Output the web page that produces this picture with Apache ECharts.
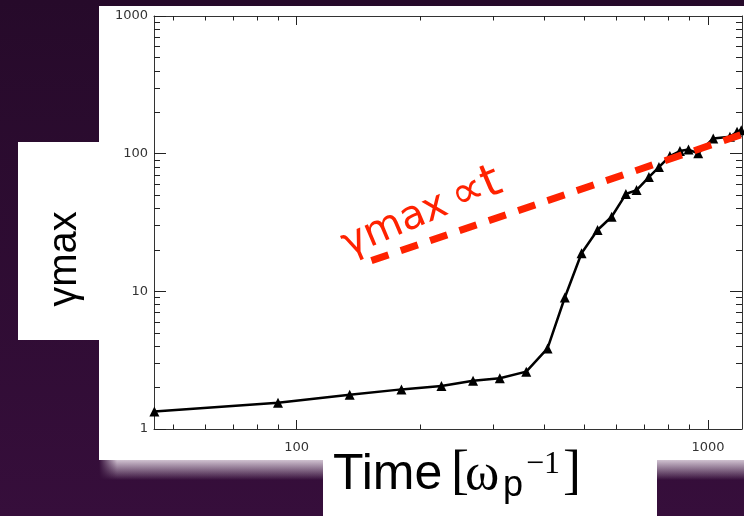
<!DOCTYPE html>
<html><head><meta charset="utf-8">
<script src="https://cdn.jsdelivr.net/npm/echarts@6/dist/echarts.min.js"></script>
<style>html,body{margin:0;padding:0;background:#2c0b30}#c{width:744px;height:516px}</style>
</head><body><div id="c"></div>
<script>
const time = [45.1, 90.1, 134.6, 179.8, 224.9, 268.5, 311.9, 361.6, 407.4, 448.8, 492.8, 539, 583.3, 631.7, 670.6, 718.5, 760, 808, 855, 896.8, 947, 1030, 1131, 1177, 1205];
const gammaMax = [1.34, 1.55, 1.77, 1.94, 2.05, 2.24, 2.34, 2.61, 3.85, 9.02, 18.9, 27.9, 34.8, 50.9, 54.4, 67.6, 79.9, 96.1, 104.4, 107.1, 100.5, 129.1, 132.7, 144.3, 148];
const fitTime = [152, 1210];
const fitGamma = [16.7, 138];
const xMajorTicks = [100, 1000];
const xMinorTicks = [50, 60, 70, 80, 90, 200, 300, 400, 500, 600, 700, 800, 900];
const yMajorTicks = [1, 10, 100, 1000];
const yMinorTicks = [2, 3, 4, 5, 6, 7, 8, 9, 20, 30, 40, 50, 60, 70, 80, 90, 200, 300, 400, 500, 600, 700, 800, 900];
const xRange = [45, 1210];
const yRange = [1, 1000];

const chart = echarts.init(document.getElementById('c'), null, {renderer: 'canvas'});
const axisColor = '#333';
const labelStyle = {color: '#333', fontFamily: 'DejaVu Sans', fontSize: 13};
function fmt(v) { return String(Math.round(v)); }

function mkAxis(range, position, ticks, len, showLine, labels, margin) {
  return {
    type: 'log', logBase: 10, min: range[0], max: range[1], position: position,
    gridIndex: 0,
    axisLine: {show: showLine, onZero: false, lineStyle: {color: axisColor, width: 1}},
    axisTick: {show: true, inside: true, length: len, customValues: ticks, lineStyle: {color: '#222', width: 1}},
    minorTick: {show: false},
    splitLine: {show: false},
    axisLabel: labels ? Object.assign({show: true, customValues: labels, margin: margin, formatter: fmt, showMinLabel: true, showMaxLabel: true}, labelStyle) : {show: false}
  };
}

const rot = 23 * Math.PI / 180;
const bg0 = '#260a2a', bg1 = '#360e3b';

const option = {
  animation: false,
  backgroundColor: 'transparent',
  grid: {left: 154, top: 16, width: 588, height: 413, containLabel: false},
  xAxis: [
    mkAxis(xRange, 'bottom', xMajorTicks, 9, true, xMajorTicks, 12),
    mkAxis(xRange, 'bottom', xMinorTicks, 4.5, false, null),
    mkAxis(xRange, 'top', xMajorTicks, 9, true, null),
    mkAxis(xRange, 'top', xMinorTicks, 4.5, false, null)
  ],
  yAxis: [
    mkAxis(yRange, 'left', yMajorTicks, 12, true, yMajorTicks, 6),
    mkAxis(yRange, 'left', yMinorTicks, 6, false, null),
    mkAxis(yRange, 'right', yMajorTicks, 12, true, null),
    mkAxis(yRange, 'right', yMinorTicks, 6, false, null)
  ],
  series: [
    {
      type: 'line', xAxisIndex: 0, yAxisIndex: 0,
      data: time.map((t, i) => [t, gammaMax[i]]),
      symbol: 'triangle', symbolSize: 10, showAllSymbol: true,
      lineStyle: {color: '#000', width: 2.5},
      itemStyle: {color: '#000'},
      z: 3
    },
    {
      type: 'line', xAxisIndex: 0, yAxisIndex: 0,
      data: fitTime.map((t, i) => [t, fitGamma[i]]),
      symbol: 'none',
      lineStyle: {color: '#ff2200', width: 7, type: [18, 13], cap: 'butt'},
      z: 4
    }
  ],
  graphic: [
    {type: 'rect', z: -100, silent: true, shape: {x: 0, y: 0, width: 744, height: 516},
      style: {fill: new echarts.graphic.LinearGradient(0, 0, 0, 1, [{offset: 0, color: bg0}, {offset: 1, color: bg1}])}},
    {type: 'rect', z: -90, silent: true, shape: {x: 99, y: 6, width: 645, height: 454}, style: {fill: '#fff'}},
    {type: 'rect', z: -89, silent: true, shape: {x: 99, y: 460, width: 645, height: 20},
      style: {fill: new echarts.graphic.LinearGradient(0, 0, 0, 1, [{offset: 0, color: 'rgba(235,225,235,0.85)'}, {offset: 1, color: 'rgba(235,225,235,0)'}])}},
    {type: 'rect', z: -88, silent: true, shape: {x: 99, y: 460, width: 18, height: 20},
      style: {fill: new echarts.graphic.LinearGradient(0, 0, 1, 0, [{offset: 0, color: '#340d39'}, {offset: 1, color: 'rgba(52,13,57,0)'}])}},
    {type: 'rect', z: -87, silent: true, shape: {x: 18, y: 142, width: 81, height: 198}, style: {fill: '#fff'}},
    {type: 'rect', z: -87, silent: true, shape: {x: 323, y: 460, width: 334, height: 56}, style: {fill: '#fff'}},
    {type: 'text', z: 100, x: 65, y: 259, rotation: Math.PI / 2,
      style: {text: 'γmax', x: 0, y: 0, align: 'center', verticalAlign: 'middle', fill: '#000', font: '40px "Liberation Sans"'}},
    {type: 'text', z: 100, x: 344, y: 247, rotation: rot,
      style: {text: 'γmax', x: 0, y: 0, align: 'left', verticalAlign: 'middle', fill: '#ff2200', font: '40px "DejaVu Sans"'}},
    {type: 'text', z: 100, x: 453, y: 200, rotation: rot,
      style: {text: '∝t', x: 0, y: 0, align: 'left', verticalAlign: 'middle', fill: '#ff2200', font: '46px "DejaVu Sans"'}},
    {type: 'text', z: 100, x: 333, y: 475,
      style: {text: 'Time', x: 0, y: 0, align: 'left', verticalAlign: 'middle', fill: '#000', font: '50px "Liberation Sans"'}},
    {type: 'text', z: 100, x: 451, y: 474,
      style: {text: '[', x: 0, y: 0, align: 'left', verticalAlign: 'middle', fill: '#000', font: '54px "Liberation Serif"'}},
    {type: 'text', z: 100, x: 465, y: 475,
      style: {text: 'ω', x: 0, y: 0, align: 'left', verticalAlign: 'middle', fill: '#000', font: '52px "Liberation Serif"'}},
    {type: 'text', z: 100, x: 503, y: 486,
      style: {text: 'p', x: 0, y: 0, align: 'left', verticalAlign: 'middle', fill: '#000', font: '36px "Liberation Sans"'}},
    {type: 'text', z: 100, x: 526, y: 465,
      style: {text: '−1', x: 0, y: 0, align: 'left', verticalAlign: 'middle', fill: '#000', font: '32px "Liberation Serif"'}},
    {type: 'text', z: 100, x: 563, y: 474,
      style: {text: ']', x: 0, y: 0, align: 'left', verticalAlign: 'middle', fill: '#000', font: '54px "Liberation Serif"'}}
  ]
};
chart.setOption(option);
</script></body></html>
